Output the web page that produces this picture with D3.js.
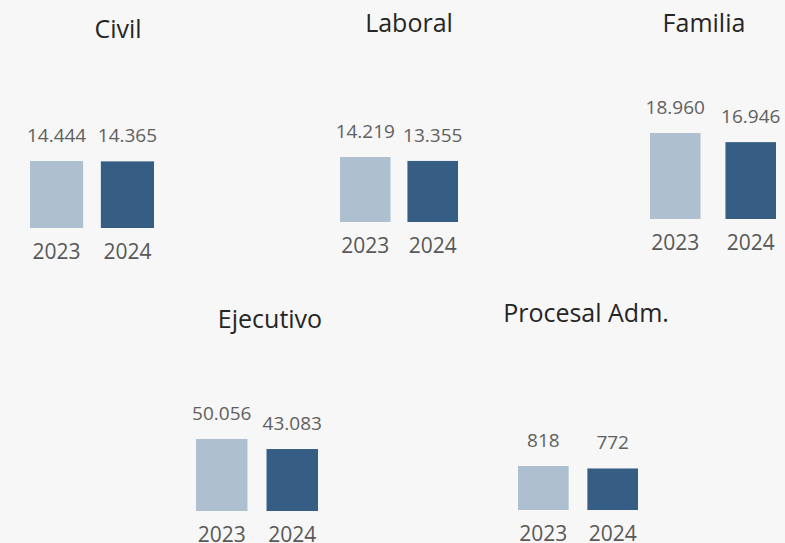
<!DOCTYPE html>
<html>
<head>
<meta charset="utf-8">
<script src="https://cdn.jsdelivr.net/npm/d3@7"></script>
<style>
  html, body { margin: 0; padding: 0; background: #f7f7f7; }
  svg { display: block; font-family: "Open Sans", "Noto Sans", sans-serif; }
</style>
</head>
<body>
<svg id="chart" width="785" height="543"></svg>
<script>
// Cases by jurisdiction, 2023 vs 2024
const categories = ["Civil", "Laboral", "Familia", "Ejecutivo", "Procesal Adm."];
const years = ["2023", "2024"];
const values2023 = [14444, 14219, 18960, 50056, 818];
const values2024 = [14365, 13355, 16946, 43083, 772];

// Panel placement: bar span, baseline, tallest bar height, title anchor
const panels = [
  { x0: 30,  x1: 154, base: 228, maxH: 67, pad: 0.25, tx: 118, ty: 38 },
  { x0: 340, x1: 458, base: 222, maxH: 65, pad: 0.25, tx: 409, ty: 32 },
  { x0: 650, x1: 776, base: 219, maxH: 86, pad: 0.33, tx: 704, ty: 32 },
  { x0: 196, x1: 318, base: 511, maxH: 72, pad: 0.27, tx: 270, ty: 328 },
  { x0: 518, x1: 638, base: 510, maxH: 44, pad: 0.27, tx: 586, ty: 322 }
];

const colors = { "2023": "#aec0cf", "2024": "#365e85" };
const fmt = d3.formatLocale({ decimal: ",", thousands: ".", grouping: [3], currency: ["$", ""] }).format(",d");

const svg = d3.select("#chart");

categories.forEach((cat, i) => {
  const p = panels[i];
  const vals = [values2023[i], values2024[i]];
  const rows = years.map((y, j) => ({ year: y, value: vals[j] }));

  const x = d3.scaleBand().domain(years).range([p.x0, p.x1]).paddingInner(p.pad);
  const y = d3.scaleLinear().domain([0, d3.max(vals)]).range([p.base, p.base - p.maxH]);

  const g = svg.append("g");

  g.append("text")
    .attr("x", p.tx).attr("y", p.ty)
    .attr("text-anchor", "middle")
    .attr("font-size", 25)
    .attr("fill", "#252525")
    .text(cat);

  g.selectAll("rect").data(rows).join("rect")
    .attr("x", d => x(d.year))
    .attr("width", x.bandwidth())
    .attr("y", d => y(d.value))
    .attr("height", d => p.base - y(d.value))
    .attr("fill", d => colors[d.year]);

  g.selectAll("text.val").data(rows).join("text")
    .attr("class", "val")
    .attr("x", d => x(d.year) + x.bandwidth() / 2)
    .attr("y", d => y(d.value) - 19)
    .attr("text-anchor", "middle")
    .attr("font-size", 19)
    .attr("fill", "#606060")
    .text(d => fmt(d.value));

  g.selectAll("text.yr").data(rows).join("text")
    .attr("class", "yr")
    .attr("x", d => x(d.year) + x.bandwidth() / 2)
    .attr("y", p.base + 31)
    .attr("text-anchor", "middle")
    .attr("font-size", 21)
    .attr("fill", "#585858")
    .text(d => d.year);
});
</script>
</body>
</html>
